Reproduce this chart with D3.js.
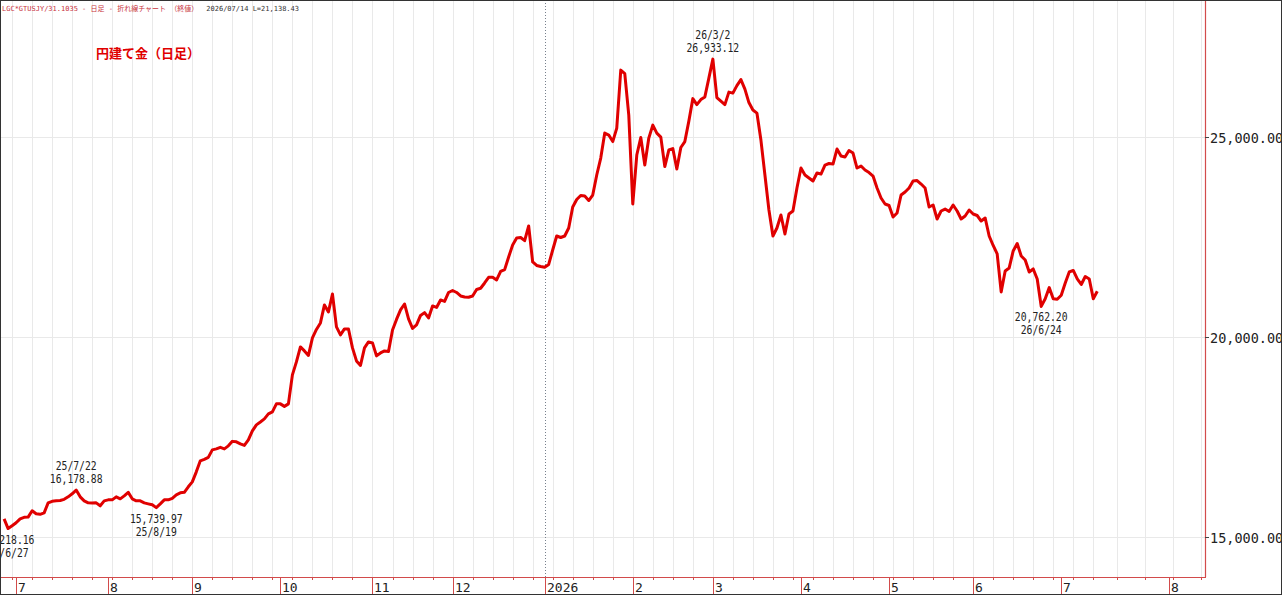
<!DOCTYPE html>
<html>
<head>
<meta charset="utf-8">
<script src="https://cdn.jsdelivr.net/npm/d3@7/dist/d3.min.js"></script>
<style>
html, body { margin: 0; padding: 0; background: #fff; }
svg { display: block; }
</style>
</head>
<body>
<div id="chart"></div>
<script>
// 円建て金 daily closes, one array per month (weekdays only)
var startDate = "2025-06-26";
var lastDate = "2026-07-14";
var endDate = "2026-08-10";   // axis keeps going in calendar days after the last close

var closeJun25 = [15460, 15218.16, 15287];
var closeJul25 = [15362, 15461, 15499, 15504, 15661, 15586, 15574, 15611, 15860, 15898,
                  15910, 15918, 15948, 16010, 16085, 16178.88, 16010, 15910, 15860, 15853,
                  15860, 15786, 15910];
var closeAug25 = [15935, 15935, 16010, 15960, 16035, 16122, 15960, 15910, 15910, 15860,
                  15835, 15811, 15739.97, 15835, 15935, 15935, 15973, 16060, 16110, 16122,
                  16260];
var closeSep25 = [16384, 16634, 16908, 16945, 16995, 17182, 17207, 17245, 17207, 17282,
                  17394, 17382, 17332, 17294, 17432, 17656, 17806, 17878, 17955, 18080,
                  18130, 18330];
var closeOct25 = [18330, 18267, 18330, 19053, 19377, 19751, 19651, 19539, 19976, 20188,
                  20350, 20799, 20624, 21073, 20250, 20050, 20200, 20200, 19726, 19402,
                  19290, 19726, 19876];
var closeNov25 = [19851, 19527, 19601, 19651, 19639, 20175, 20437, 20674, 20823, 20450,
                  20212, 20300, 20537, 20607, 20474, 20774, 20736, 20923, 20886, 21110];
var closeDec25 = [21160, 21110, 21023, 20998, 20991, 21023, 21185, 21215, 21347, 21489,
                  21489, 21422, 21634, 21679, 21996, 22295, 22470, 22482, 22402, 22769,
                  21871, 21784, 21759];
var closeJan26 = [21739, 21809, 22170, 22520, 22482, 22520, 22719, 23243, 23430, 23530,
                  23517, 23405, 23542, 24041, 24465, 25088, 25038, 24876, 25213, 26659,
                  26572, 25537];
var closeFeb26 = [23317, 24540, 24976, 24290, 24963, 25287, 25088, 24988, 24253, 24665,
                  24702, 24191, 24727, 24876, 25387, 25948, 25798, 25923, 25991, 26460];
var closeMar26 = [26933.12, 25973, 25886, 25798, 26110, 26085, 26273, 26422, 26185, 25849,
                  25662, 25587, 24914, 24041, 23168, 22520, 22719, 23043, 22570, 23068,
                  23143, 23717];
var closeApr26 = [24216, 24041, 23966, 23891, 24091, 24066, 24290, 24328, 24315, 24689,
                  24515, 24490, 24652, 24590, 24216, 24265, 24166, 24103, 24016, 23717,
                  23468, 23318];
var closeMay26 = [23280, 22993, 23093, 23542, 23617, 23717, 23891, 23904, 23816, 23717,
                  23243, 23293, 22943, 23143, 23192, 23130, 23293, 23143, 22943, 23018,
                  23168];
var closeJun26 = [23068, 23031, 22893, 22968, 22520, 22283, 22071, 21123, 21647, 21722,
                  22146, 22333, 22021, 21921, 21622, 21697, 21447, 20762.20, 20954, 21231,
                  20954, 20941];
var closeJul26 = [21041, 21347, 21622, 21659, 21447, 21310, 21509, 21447, 20954, 21138.43];

var monthLabels = ["7", "8", "9", "10", "11", "12", "2026", "2", "3", "4", "5", "6", "7", "8"];
var yTicks = [15000, 20000, 25000];

var annotations = [
    {date: "2025-06-27", value: 15218.16, text: ["15,218.16", "25/6/27"], side: "below"},
    {date: "2025-07-22", value: 16178.88, text: ["25/7/22", "16,178.88"], side: "above"},
    {date: "2025-08-19", value: 15739.97, text: ["15,739.97", "25/8/19"], side: "below"},
    {date: "2026-03-02", value: 26933.12, text: ["26/3/2", "26,933.12"], side: "above"},
    {date: "2026-06-24", value: 20762.20, text: ["20,762.20", "26/6/24"], side: "below"}
];

var headerRed = "LGC*GTUSJY/31.1035 - 日足 - 折れ線チャート （終値）";
var headerBlack = "2026/07/14 L=21,138.43";
var title = "円建て金（日足）";

var closes = [].concat(closeJun25, closeJul25, closeAug25, closeSep25, closeOct25, closeNov25,
    closeDec25, closeJan26, closeFeb26, closeMar26, closeApr26, closeMay26, closeJun26, closeJul26);

var parse = d3.timeParse("%Y-%m-%d");
var fmt = d3.timeFormat("%Y-%m-%d");

// one slot per weekday while there is data, one per calendar day afterwards
var slots = [];
var d = parse(startDate), last = parse(lastDate), end = parse(endDate);
while (d <= end) {
    var wd = d.getDay();
    if (d > last || (wd != 0 && wd != 6)) slots.push(d);
    d = d3.timeDay.offset(d, 1);
}
var slotIndex = {};
slots.forEach(function (s, i) { slotIndex[fmt(s)] = i; });

var data = closes.map(function (v, i) { return {i: i, value: v}; });

var W = 1282, H = 595;
var plotRight = 1205, plotBottom = 577;
var red = "#e00000", axisRed = "#d24b4b", gridCol = "#e9e9e9";
var mono = "'DejaVu Sans Mono', 'Liberation Mono', monospace";
var jp = "'Noto Sans CJK JP', 'Noto Sans', sans-serif";

var svg = d3.select("#chart").append("svg")
    .attr("width", W)
    .attr("height", H);

var x = d3.scaleLinear()
    .domain([0, slots.length - 1])
    .range([4.1, plotRight + 0.4]);
var y = d3.scaleLinear()
    .domain([15000, 25000])
    .range([537.3, 136.6]);

svg.append("defs").append("clipPath").attr("id", "plot")
    .append("rect").attr("x", 0).attr("y", 0).attr("width", plotRight).attr("height", plotBottom);

// week starts (first slot of each Sunday-based week) and month starts
var weekStarts = [], monthStarts = [];
slots.forEach(function (s, i) {
    if (i == 0) return;
    if (+d3.timeWeek.floor(s) != +d3.timeWeek.floor(slots[i - 1])) weekStarts.push(i);
    if (s.getMonth() != slots[i - 1].getMonth()) monthStarts.push(i);
});

var grid = svg.append("g").attr("clip-path", "url(#plot)");
grid.selectAll("line.wk")
    .data(weekStarts)
    .enter().append("line")
    .attr("x1", (i) => Math.round(x(i)) + 0.5)
    .attr("x2", (i) => Math.round(x(i)) + 0.5)
    .attr("y1", 0).attr("y2", plotBottom)
    .attr("stroke", gridCol).attr("stroke-width", 1);
grid.selectAll("line.yg")
    .data(yTicks)
    .enter().append("line")
    .attr("x1", 0).attr("x2", plotRight)
    .attr("y1", (v) => Math.round(y(v)) + 0.5)
    .attr("y2", (v) => Math.round(y(v)) + 0.5)
    .attr("stroke", gridCol).attr("stroke-width", 1);

// dotted year separator
var yearIdx = slotIndex["2026-01-01"];
grid.append("line")
    .attr("x1", Math.round(x(yearIdx)) + 0.5).attr("x2", Math.round(x(yearIdx)) + 0.5)
    .attr("y1", 0).attr("y2", plotBottom)
    .attr("stroke", "#77808c").attr("stroke-width", 1)
    .attr("stroke-dasharray", "1,2");

// price line
svg.append("path")
    .datum(data)
    .attr("clip-path", "url(#plot)")
    .attr("fill", "none")
    .attr("stroke", red)
    .attr("stroke-width", 3)
    .attr("stroke-linejoin", "round")
    .attr("d", d3.line()
        .x((p) => x(p.i))
        .y((p) => y(p.value)));

// narrow mono text like the terminal font
function monoText(g, tx, ty, str, anchor) {
    g.append("text")
        .attr("transform", "translate(" + tx + "," + ty + ") scale(0.78,1)")
        .attr("text-anchor", anchor || "middle")
        .attr("font-family", mono)
        .attr("font-size", 12.5)
        .attr("fill", "#222")
        .text(str);
}

var ann = svg.append("g");
annotations.forEach(function (a) {
    var ax = x(slotIndex[a.date]), ay = y(a.value);
    if (a.side == "above") {
        monoText(ann, ax, ay - 20, a.text[0]);
        monoText(ann, ax, ay - 7.5, a.text[1]);
    } else {
        monoText(ann, ax, ay + 15, a.text[0]);
        monoText(ann, ax, ay + 28, a.text[1]);
    }
});

// header and title
var hdr = svg.append("text")
    .attr("x", 2).attr("y", 11)
    .attr("font-family", mono + ", " + jp)
    .attr("font-size", 7);
hdr.append("tspan").attr("fill", "#c8323c").text(headerRed);
hdr.append("tspan").attr("fill", "#333").attr("dx", 8).text(headerBlack);

svg.append("text")
    .attr("x", 96).attr("y", 58)
    .attr("font-family", jp)
    .attr("font-size", 13)
    .attr("font-weight", "bold")
    .attr("fill", red)
    .text(title);

// right price axis
svg.append("line")
    .attr("x1", plotRight + 0.5).attr("x2", plotRight + 0.5)
    .attr("y1", 0).attr("y2", plotBottom)
    .attr("stroke", axisRed).attr("stroke-width", 1.2);
var ya = svg.append("g");
yTicks.forEach(function (v) {
    var ty = Math.round(y(v)) + 0.5;
    ya.append("line")
        .attr("x1", plotRight).attr("x2", plotRight + 4)
        .attr("y1", ty).attr("y2", ty)
        .attr("stroke", "#444");
    ya.append("text")
        .attr("x", plotRight + 5).attr("y", ty + 5)
        .attr("font-family", mono)
        .attr("font-size", 13.5)
        .attr("fill", "#222")
        .text(d3.format(",.2f")(v));
});

// bottom date axis
var xa = svg.append("g");
xa.append("line")
    .attr("x1", 0).attr("x2", plotRight + 1)
    .attr("y1", plotBottom + 0.5).attr("y2", plotBottom + 0.5)
    .attr("stroke", axisRed).attr("stroke-width", 1.2);
xa.selectAll("line.wt")
    .data(weekStarts.filter((i) => x(i) < plotRight))
    .enter().append("line")
    .attr("x1", (i) => Math.round(x(i)) + 0.5)
    .attr("x2", (i) => Math.round(x(i)) + 0.5)
    .attr("y1", plotBottom).attr("y2", plotBottom + 3)
    .attr("stroke", axisRed);
xa.selectAll("line.mt")
    .data(monthStarts)
    .enter().append("line")
    .attr("x1", (i) => Math.round(x(i)) + 0.5)
    .attr("x2", (i) => Math.round(x(i)) + 0.5)
    .attr("y1", plotBottom).attr("y2", H)
    .attr("stroke", axisRed);
xa.selectAll("text")
    .data(monthStarts)
    .enter().append("text")
    .attr("x", (i) => Math.round(x(i)) + 2)
    .attr("y", 592)
    .attr("font-family", mono)
    .attr("font-size", 13)
    .attr("fill", "#222")
    .text((i, k) => monthLabels[k]);

// outer frame
svg.append("rect")
    .attr("x", 0.5).attr("y", 0.5)
    .attr("width", W - 1).attr("height", H - 1)
    .attr("fill", "none")
    .attr("stroke", "#333")
    .attr("stroke-width", 1);
</script>
</body>
</html>
